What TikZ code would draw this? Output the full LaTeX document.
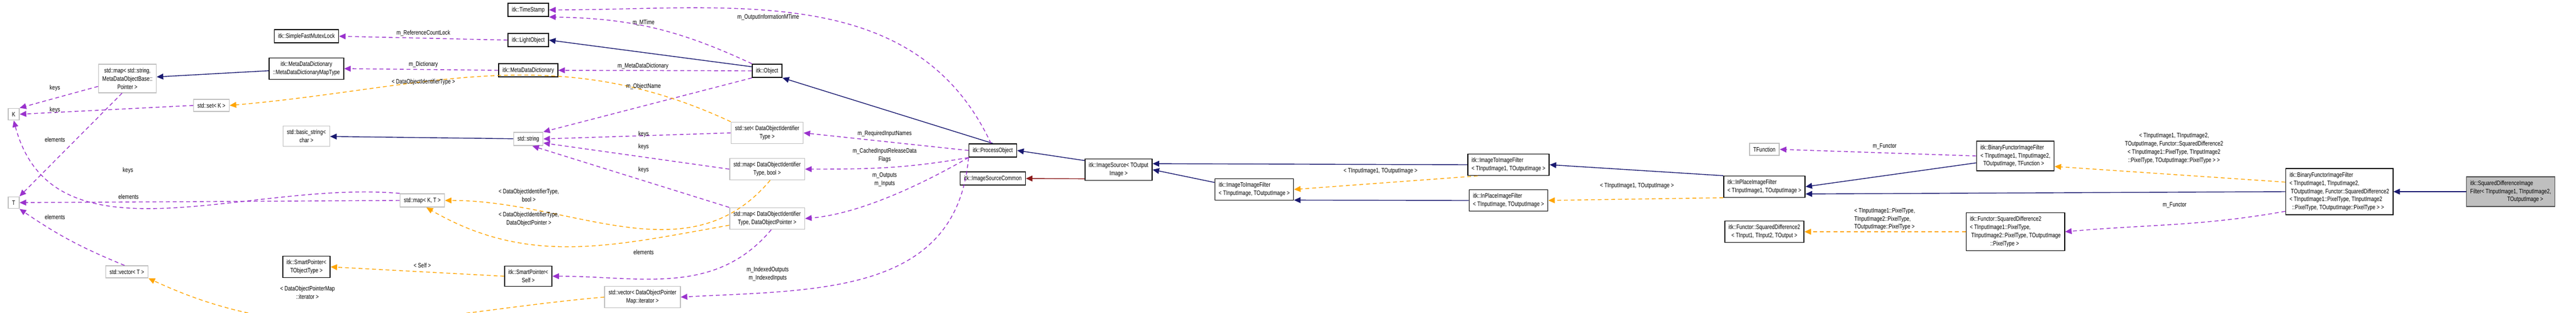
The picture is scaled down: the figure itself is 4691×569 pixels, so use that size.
\documentclass[tikz,border=0pt]{standalone}
\usepackage{fontspec}
\setmainfont{Liberation Sans}[FakeStretch=0.78]
\usetikzlibrary{arrows.meta}
\definecolor{inhblue}{HTML}{191970}
\definecolor{usepurple}{HTML}{9A32CD}
\definecolor{tplorange}{HTML}{FFA500}
\definecolor{privred}{HTML}{8B1A1A}
\definecolor{extgray}{HTML}{BFBFBF}
\newcommand{\dxfont}{\fontsize{3.3}{4.25}\selectfont}
\tikzset{
  cls/.style={draw=black, fill=white, font=\dxfont, inner xsep=2pt, inner ysep=1.9pt, align=center, line width=0.45pt},
  ext/.style={cls, draw=extgray},
  cur/.style={cls, fill=extgray, draw=black!70},
  lbl/.style={font=\dxfont, align=center, inner sep=0pt},
  tip/.style={-{Triangle[length=3.4pt,width=3pt]}},
  inh/.style={tip, draw=inhblue, line width=0.4pt},
  use/.style={tip, draw=usepurple, line width=0.4pt, dash pattern=on 2pt off 1.5pt},
  tpl/.style={tip, draw=tplorange, line width=0.4pt, dash pattern=on 2pt off 1.5pt},
  prv/.style={tip, draw=privred, line width=0.4pt}
}
\begin{document}
\begin{tikzpicture}[x=0.01cm,y=-0.01cm]
\useasboundingbox (0,0) rectangle (4691,569);
% classes
\node[ext] (k) at (25,208) {K};
\node[ext] (t) at (25,369) {T};
\node[ext] (mstr) at (232,143) {std::map\textless{} std::string,\\MetaDataObjectBase::\\Pointer \textgreater};
\node[ext] (setk) at (385,192) {std::set\textless{} K \textgreater};
\node[ext] (vect) at (231,495) {std::vector\textless{} T \textgreater};
\node[cls] (sfm) at (558,66) {itk::SimpleFastMutexLock};
\node[cls] (mdt) at (558,125) {itk::MetaDataDictionary\\::MetaDataDictionaryMapType};
\node[ext] (bstr) at (558,248) {std::basic\_string\textless\\char \textgreater};
\node[cls] (spobj) at (558,486) {itk::SmartPointer\textless\\TObjectType \textgreater};
\node[ext] (mkt) at (769,365) {std::map\textless{} K, T \textgreater};
\node[cls] (ts) at (962,18) {itk::TimeStamp};
\node[cls] (lo) at (962,73) {itk::LightObject};
\node[cls] (mdd) at (962,128) {itk::MetaDataDictionary};
\node[ext] (str) at (962,253) {std::string};
\node[cls] (spself) at (962,503) {itk::SmartPointer\textless\\Self \textgreater};
\node[ext] (vecdop) at (1170,541) {std::vector\textless{} DataObjectPointer\\Map::iterator \textgreater};
\node[cls] (obj) at (1397,129) {itk::Object};
\node[ext] (setdoi) at (1397,242) {std::set\textless{} DataObjectIdentifier\\Type \textgreater};
\node[ext] (mbool) at (1397,308) {std::map\textless{} DataObjectIdentifier\\Type, bool \textgreater};
\node[ext] (mptr) at (1397,398) {std::map\textless{} DataObjectIdentifier\\Type, DataObjectPointer \textgreater};
\node[cls] (po) at (1808,274) {itk::ProcessObject};
\node[cls] (isc) at (1808,325) {itk::ImageSourceCommon};
\node[cls] (is) at (2037,309) {itk::ImageSource\textless{} TOutput\\Image \textgreater};
\node[cls, align=left] (iif) at (2284,345) {itk::ImageToImageFilter\\\textless{} TInputImage, TOutputImage \textgreater};
\node[cls, align=left] (iifa) at (2747,300) {itk::ImageToImageFilter\\\textless{} TInputImage1, TOutputImage \textgreater};
\node[cls, align=left] (ipf) at (2747,365) {itk::InPlaceImageFilter\\\textless{} TInputImage, TOutputImage \textgreater};
\node[cls, align=left] (ipfa) at (3213,340) {itk::InPlaceImageFilter\\\textless{} TInputImage1, TOutputImage \textgreater};
\node[ext] (tfn) at (3213,272) {TFunction};
\node[cls] (sqd) at (3213,422) {itk::Functor::SquaredDifference2\\\textless{} TInput1, TInput2, TOutput \textgreater};
\node[cls, align=left] (bfi) at (3670,284) {itk::BinaryFunctorImageFilter\\\textless{} TInputImage1, TInputImage2,\\\ \ TOutputImage, TFunction \textgreater};
\node[cls, align=left] (sqdp) at (3670,422) {itk::Functor::SquaredDifference2\\\textless{} TInputImage1::PixelType,\\\ TInputImage2::PixelType, TOutputImage\\\hspace*{3.2em}::PixelType \textgreater};
\node[cls, align=left] (bfisq) at (4260,349) {itk::BinaryFunctorImageFilter\\\textless{} TInputImage1, TInputImage2,\\\ TOutputImage, Functor::SquaredDifference2\\\textless{} TInputImage1::PixelType, TInputImage2\\\ \ ::PixelType, TOutputImage::PixelType \textgreater{} \textgreater};
\node[cur, align=left] (sdif) at (4572,349) {itk::SquaredDifferenceImage\\Filter\textless{} TInputImage1, TInputImage2,\\\hspace*{5.8em}TOutputImage \textgreater};
% inheritance
\draw[inh] (str) -- (bstr);
\draw[inh] (mdt) -- (mstr);
\draw[inh] (obj.165) -- (lo.east);
\draw[inh] (po.north) -- (obj.south east);
\draw[inh] (is.165) -- (po.east);
\draw[prv] (is.195) -- (isc.east);
\draw[inh] (iif.170) -- (is.east);
\draw[inh] (iifa.west) -- (is.10);
\draw[inh] (ipf.west) -- (iif.-15);
\draw[inh] (ipfa.165) -- (iifa.east);
\draw[inh] (bfi.190) -- (ipfa.east);
\draw[inh] (bfisq.west) -- (ipfa.-10);
\draw[inh] (sdif) -- (bfisq);
% members
\draw[use] (lo.west) -- (sfm.east);
\draw[use] (mdd.west) -- (mdt.east);
\draw[use] (obj.155) to[bend right=12] (ts.south east);
\draw[use] (po.105) to[out=115,in=0] (ts.east);
\draw[use] (obj.west) -- (mdd.east);
\draw[use] (obj.south west) -- (str.north east);
\draw[use] (mstr.195) -- (k.north east);
\draw[use] (setk.west) -- (k.east);
\draw[use] (mstr.250) -- (t.north east);
\draw[use] (mkt.north west) to[out=175,in=-75] (k.south);
\draw[use] (mkt.west) -- (t.east);
\draw[use] (vect.110) to[bend left=6] (t.south east);
\draw[use] (setdoi.west) -- (str.east);
\draw[use] (mbool.west) -- (str.-15);
\draw[use] (mptr.north west) -- (str.-60);
\draw[use] (po.west) -- (setdoi.east);
\draw[use] (po.south west) to[out=190,in=0] (mbool.east);
\draw[use] (po.south west) to[out=-150,in=5,looseness=0.8] (mptr.east);
\draw[use] (po.south west) to[out=-95,in=3,looseness=1.1] (vecdop.east);
\draw[use] (mptr.-70) to[out=-130,in=0] (spself.east);
\draw[use] (bfi.west) -- (tfn.east);
\draw[use] (bfisq.-160) to[out=190,in=5] (sqdp.east);
% template instances
\draw[tpl] (setdoi.north west) to[out=155,in=5] (setk.east);
\draw[tpl] (mbool.-75) to[out=-130,in=0] (mkt.east);
\draw[tpl] (mptr.190) to[out=190,in=-30] (mkt.-60);
\draw[tpl] (spself.west) -- (spobj.east);
\draw[tpl] (vecdop.west) to[out=185,in=-25] (vect.south east);
\draw[tpl] (iifa.-160) -- (iif.east);
\draw[tpl] (ipfa.-165) -- (ipf.east);
\draw[tpl] (sqdp.west) -- (sqd.east);
\draw[tpl] (bfisq.170) -- (bfi.-15);
% edge labels
\node[lbl] (lrc) at (771,60) {m\_ReferenceCountLock};
\node[lbl] (ldict) at (771,117) {m\_Dictionary};
\node[lbl] (ldoit) at (771,149) {\textless{} DataObjectIdentifierType \textgreater};
\node[lbl] (lk1) at (100,160) {keys};
\node[lbl] (lk2) at (100,200) {keys};
\node[lbl] (le1) at (100,254) {elements};
\node[lbl] (lk3) at (233,310) {keys};
\node[lbl] (le2) at (234,358) {elements};
\node[lbl] (le3) at (100,395) {elements};
\node[lbl] (lself) at (769,483) {\textless{} Self \textgreater};
\node[lbl] (liter) at (560,533) {\textless{} DataObjectPointerMap\\::iterator \textgreater};
\node[lbl] (lomt) at (1399,31) {m\_OutputInformationMTime};
\node[lbl] (lmt) at (1172,41) {m\_MTime};
\node[lbl] (lmdd) at (1171,120) {m\_MetaDataDictionary};
\node[lbl] (lon) at (1172,157) {m\_ObjectName};
\node[lbl] (lk4) at (1172,244) {keys};
\node[lbl] (lk5) at (1172,267) {keys};
\node[lbl] (lk6) at (1172,309) {keys};
\node[lbl] (lbool) at (963,356) {\textless{} DataObjectIdentifierType,\\bool \textgreater};
\node[lbl] (ldop) at (963,399) {\textless{} DataObjectIdentifierType,\\DataObjectPointer \textgreater};
\node[lbl] (le4) at (1172,459) {elements};
\node[lbl] (lidx) at (1398,499) {m\_IndexedOutputs\\m\_IndexedInputs};
\node[lbl] (lreq) at (1611,243) {m\_RequiredInputNames};
\node[lbl] (lcache) at (1611,283) {m\_CachedInputReleaseData\\Flags};
\node[lbl] (lio) at (1611,327) {m\_Outputs\\m\_Inputs};
\node[lbl] (lti1) at (2514,312) {\textless{} TInputImage1, TOutputImage \textgreater};
\node[lbl] (lti2) at (2981,339) {\textless{} TInputImage1, TOutputImage \textgreater};
\node[lbl] (lfn1) at (3432,267) {m\_Functor};
\node[lbl, align=left] (lpix) at (3432,399) {\textless{} TInputImage1::PixelType,\\TInputImage2::PixelType,\\TOutputImage::PixelType \textgreater};
\node[lbl] (lsq) at (3959,270) {\textless{} TInputImage1, TInputImage2,\\TOutputImage, Functor::SquaredDifference2\\\textless{} TInputImage1::PixelType, TInputImage2\\::PixelType, TOutputImage::PixelType \textgreater{} \textgreater};
\node[lbl] (lfn2) at (3960,374) {m\_Functor};
\end{tikzpicture}
\end{document}
